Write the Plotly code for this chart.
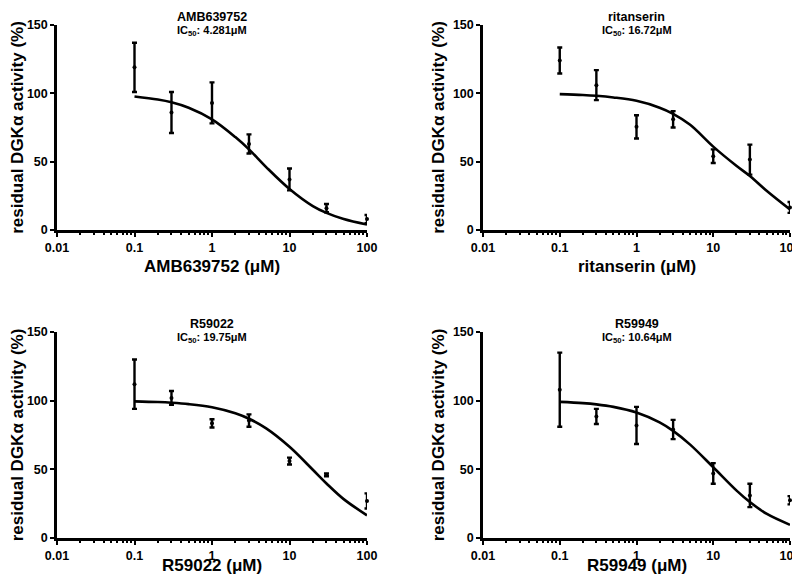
import plotly.graph_objects as go

# ---- data ----
DOSES = [0.1, 0.3, 1, 3, 10, 30, 100]
COMPOUNDS = ["AMB639752", "ritanserin", "R59022", "R59949"]
IC50_LABELS = ["4.281", "16.72", "19.75", "10.64"]

amb_mean = [119, 86, 93, 63, 37, 16, 8]
amb_err = [18, 15, 15, 7, 8, 3, 3]
rit_mean = [124, 106, 75.5, 81, 54, 51.5, 16.5]
rit_err = [9.5, 11, 8.5, 6, 5, 11, 4]
r22_mean = [112, 102, 83.5, 85.5, 56, 46, 27]
r22_err = [18, 5, 3, 4.5, 2.5, 1, 5.5]
r49_mean = [108, 88.5, 82, 79, 47, 31, 27.5]
r49_err = [27, 5.5, 13.5, 7, 7.5, 8.5, 3]

# fitted curves
CURVE_X = [0.1, 0.2, 0.3, 0.5, 1, 2, 3, 5, 10, 20, 30, 50, 100]
amb_curve = [97.7, 95.5, 93.5, 89.5, 81, 68, 59, 46, 30, 17.5, 12.5, 8, 4]
rit_curve = [99.4, 98.8, 98.2, 97, 94.5, 89.5, 85, 77, 61, 47, 39.5, 28.5, 15]
r22_curve = [99.5, 99, 98.5, 97.5, 95.2, 90.8, 86.8, 79.8, 66.4, 49.7, 39.7, 28.3, 16.5]
r49_curve = [99.1, 98.2, 97.3, 95.5, 91.4, 84.2, 78, 68, 51.5, 34.7, 26.2, 17.5, 9.6]

X_TICKS = [0.01, 0.1, 1, 10, 100]
X_TICK_TEXT = ["0.01", "0.1", "1", "10", "100"]
Y_TICKS = [0, 50, 100, 150]

means = [amb_mean, rit_mean, r22_mean, r49_mean]
errs = [amb_err, rit_err, r22_err, r49_err]
curves = [amb_curve, rit_curve, r22_curve, r49_curve]

W, H = 792, 568
FONT = "Liberation Sans, Arial, sans-serif"

# panel pixel boxes (left, right, top, bottom)
boxes = [(49, 359, 17, 222), (475, 782, 17, 222),
         (49, 359, 324, 530), (475, 782, 324, 530)]
xtitle_gap = [36, 36, 27, 27]


def px(x):
    return x / W


def py(y):
    return 1 - y / H


fig = go.Figure()
layout = dict(width=W, height=H, paper_bgcolor="white", plot_bgcolor="white",
              margin=dict(l=0, r=0, t=0, b=0, autoexpand=False), showlegend=False,
              font=dict(family=FONT, color="black"))
annotations = []

for i in range(4):
    l, r, t, b = boxes[i]
    xa = "xaxis" if i == 0 else f"xaxis{i+1}"
    ya = "yaxis" if i == 0 else f"yaxis{i+1}"
    xref = "x" if i == 0 else f"x{i+1}"
    yref = "y" if i == 0 else f"y{i+1}"

    fig.add_trace(go.Scatter(
        x=CURVE_X, y=curves[i], mode="lines", line=dict(color="black", width=2.6, shape="spline"),
        xaxis=xref, yaxis=yref, hoverinfo="skip", cliponaxis=False))
    fig.add_trace(go.Scatter(
        x=DOSES, y=means[i], mode="markers",
        marker=dict(color="black", size=4),
        error_y=dict(type="data", array=errs[i], color="black", thickness=2.4, width=2.5),
        xaxis=xref, yaxis=yref, cliponaxis=False))

    layout[xa] = dict(
        type="log", range=[-2, 2], domain=[px(l), px(r)], anchor=yref, automargin=False,
        showline=True, linecolor="black", linewidth=2.5, showgrid=False, zeroline=False,
        tickvals=X_TICKS, ticktext=X_TICK_TEXT, ticks="outside", ticklen=4, tickwidth=2,
        tickcolor="black", tickfont=dict(family=FONT, size=12.5, color="black", weight="bold"),
        ticklabeloverflow="allow",
        minor=dict(ticks="outside", ticklen=2.5, tickwidth=1.5, tickcolor="black", dtick="D1", showgrid=False),
        fixedrange=True)
    layout[ya] = dict(
        range=[0, 150], domain=[py(b), py(t)], anchor=xref, automargin=False,
        showline=True, linecolor="black", linewidth=2.5, showgrid=False, zeroline=False,
        tickvals=Y_TICKS, ticks="outside", ticklen=4, tickwidth=2, tickcolor="black",
        tickfont=dict(family=FONT, size=12.5, color="black", weight="bold"), fixedrange=True,
        title=dict(text="<b>residual DGKα activity (%)</b>", standoff=4,
                   font=dict(family=FONT, size=17, color="black")))

    cx = px((l + r) / 2)
    annotations.append(dict(text=f"<b>{COMPOUNDS[i]}</b>", x=cx, y=py(t - 8),
                            xref="paper", yref="paper", showarrow=False,
                            font=dict(family=FONT, size=12.5, color="black"),
                            xanchor="center", yanchor="middle"))
    annotations.append(dict(text=f"<b>IC<sub>50</sub>: {IC50_LABELS[i]}μM</b>", x=cx, y=py(t + 6),
                            xref="paper", yref="paper", showarrow=False,
                            font=dict(family=FONT, size=11, color="black"),
                            xanchor="center", yanchor="middle"))
    annotations.append(dict(text=f"<b>{COMPOUNDS[i]} (μM)</b>", x=cx, y=py(b + xtitle_gap[i]),
                            xref="paper", yref="paper", showarrow=False,
                            font=dict(family=FONT, size=17, color="black"),
                            xanchor="center", yanchor="middle"))

layout["annotations"] = annotations
fig.update_layout(**layout)
fig.write_html("out.html")
